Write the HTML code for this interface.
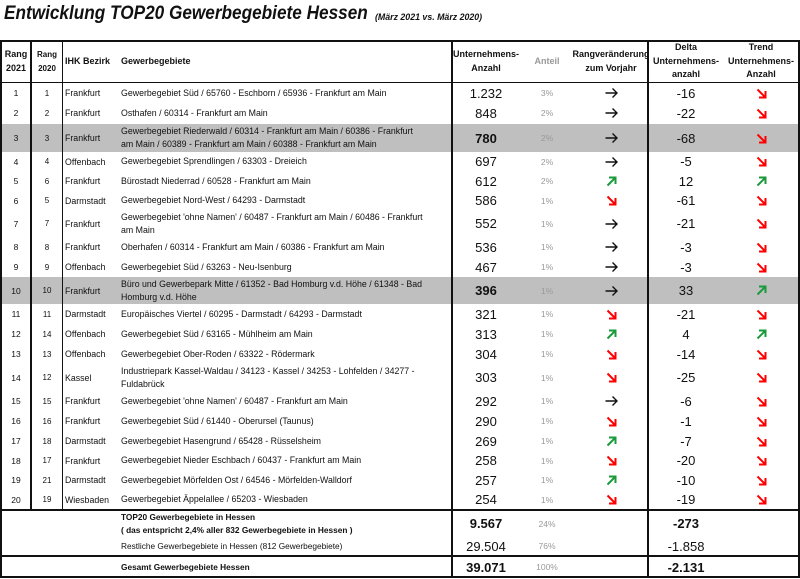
<!DOCTYPE html>
<html><head><meta charset="utf-8"><style>
*{margin:0;padding:0;box-sizing:border-box}
body{width:800px;height:579px;background:#fff;position:relative;overflow:hidden;font-family:"Liberation Sans",sans-serif;color:#111}
.title{position:absolute;left:4px;top:3px;font-size:19px;font-weight:bold;font-style:italic;transform:scaleX(0.905);transform-origin:0 0;white-space:nowrap}
.sub{position:absolute;left:375px;top:12px;font-size:8.8px;font-weight:bold;font-style:italic}
.row{position:absolute;left:1px;width:798px;display:flex}
.row>div{display:flex;align-items:center;height:100%;white-space:nowrap;overflow:visible}
.c1{width:30px;justify-content:center;font-size:8.5px}
.c2{width:32px;justify-content:center;font-size:8px}
.c3{width:55px;padding-left:2px;font-size:8.8px}
.c4{width:334px;padding-left:3px;font-size:8.8px;line-height:13px}
.c5{width:68px;justify-content:center;font-size:13px}
.c6{width:54px;justify-content:center;font-size:8.5px;color:#999}
.c7{width:74px;justify-content:center;font-size:15px}
.c8{width:76px;justify-content:center;font-size:13px}
.c9{width:74px;justify-content:center}
.hd>div{font-weight:bold;font-size:9px;text-align:center;line-height:13.5px}
.g{background:#bfbfbf}
.b{font-weight:bold}
.ln{position:absolute;background:#111}
</style></head><body>
<div class="title">Entwicklung TOP20 Gewerbegebiete Hessen</div>
<div class="sub">(März 2021 vs. März 2020)</div>

<div class="row hd" style="top:41px;height:41px">
<div class="c1">Rang<br>2021</div><div class="c2" style="font-size:8px">Rang<br>2020</div>
<div class="c3" style="justify-content:flex-start">IHK Bezirk</div>
<div class="c4" style="font-size:9px">Gewerbegebiete</div>
<div class="c5" style="font-size:9px">Unternehmens-<br>Anzahl</div>
<div class="c6" style="font-size:9px">Anteil</div>
<div class="c7" style="font-size:9px">Rangveränderung<br>zum Vorjahr</div>
<div class="c8" style="font-size:9px">Delta<br>Unternehmens-<br>anzahl</div>
<div class="c9" style="font-size:9px">Trend<br>Unternehmens-<br>Anzahl</div>
</div>

<svg width="0" height="0" style="position:absolute"><defs>
<g id="dn"><path d="M1.5 1.5L9 9M3 9.5H9.5V3" stroke="#f00" stroke-width="2" fill="none"/></g>
<g id="up"><path d="M1.5 9.5L9 2M3 1.5H9.5V8" stroke="#1a9a3a" stroke-width="2" fill="none"/></g>
<g id="rt"><path d="M0.5 6H12M7.5 1.5L12 6L7.5 10.5" stroke="#111" stroke-width="1.4" fill="none"/></g>
</defs></svg>

<div class="row" style="top:83px;height:20px"><div class="c1">1</div><div class="c2">1</div><div class="c3">Frankfurt</div><div class="c4">Gewerbegebiet Süd / 65760 - Eschborn / 65936 - Frankfurt am Main</div><div class="c5">1.232</div><div class="c6">3%</div><div class="c7"><svg width="13" height="12"><use href="#rt"/></svg></div><div class="c8">-16</div><div class="c9"><svg width="11" height="11"><use href="#dn"/></svg></div></div>
<div class="row" style="top:103px;height:20px"><div class="c1">2</div><div class="c2">2</div><div class="c3">Frankfurt</div><div class="c4">Osthafen / 60314 - Frankfurt am Main</div><div class="c5">848</div><div class="c6">2%</div><div class="c7"><svg width="13" height="12"><use href="#rt"/></svg></div><div class="c8">-22</div><div class="c9"><svg width="11" height="11"><use href="#dn"/></svg></div></div>
<div class="row g" style="top:124px;height:28px"><div class="c1">3</div><div class="c2">3</div><div class="c3">Frankfurt</div><div class="c4">Gewerbegebiet Riederwald / 60314 - Frankfurt am Main / 60386 - Frankfurt<br>am Main / 60389 - Frankfurt am Main / 60388 - Frankfurt am Main</div><div class="c5 b">780</div><div class="c6">2%</div><div class="c7"><svg width="13" height="12"><use href="#rt"/></svg></div><div class="c8">-68</div><div class="c9"><svg width="11" height="11"><use href="#dn"/></svg></div></div>
<div class="row" style="top:152px;height:19px"><div class="c1">4</div><div class="c2">4</div><div class="c3">Offenbach</div><div class="c4">Gewerbegebiet Sprendlingen / 63303 - Dreieich</div><div class="c5">697</div><div class="c6">2%</div><div class="c7"><svg width="13" height="12"><use href="#rt"/></svg></div><div class="c8">-5</div><div class="c9"><svg width="11" height="11"><use href="#dn"/></svg></div></div>
<div class="row" style="top:171px;height:20px"><div class="c1">5</div><div class="c2">6</div><div class="c3">Frankfurt</div><div class="c4">Bürostadt Niederrad / 60528 - Frankfurt am Main</div><div class="c5">612</div><div class="c6">2%</div><div class="c7"><svg width="11" height="11"><use href="#up"/></svg></div><div class="c8">12</div><div class="c9"><svg width="11" height="11"><use href="#up"/></svg></div></div>
<div class="row" style="top:191px;height:19px"><div class="c1">6</div><div class="c2">5</div><div class="c3">Darmstadt</div><div class="c4">Gewerbegebiet Nord-West / 64293 - Darmstadt</div><div class="c5">586</div><div class="c6">1%</div><div class="c7"><svg width="11" height="11"><use href="#dn"/></svg></div><div class="c8">-61</div><div class="c9"><svg width="11" height="11"><use href="#dn"/></svg></div></div>
<div class="row" style="top:210px;height:27px"><div class="c1">7</div><div class="c2">7</div><div class="c3">Frankfurt</div><div class="c4">Gewerbegebiet 'ohne Namen' / 60487 - Frankfurt am Main / 60486 - Frankfurt<br>am Main</div><div class="c5">552</div><div class="c6">1%</div><div class="c7"><svg width="13" height="12"><use href="#rt"/></svg></div><div class="c8">-21</div><div class="c9"><svg width="11" height="11"><use href="#dn"/></svg></div></div>
<div class="row" style="top:237px;height:20px"><div class="c1">8</div><div class="c2">8</div><div class="c3">Frankfurt</div><div class="c4">Oberhafen / 60314 - Frankfurt am Main / 60386 - Frankfurt am Main</div><div class="c5">536</div><div class="c6">1%</div><div class="c7"><svg width="13" height="12"><use href="#rt"/></svg></div><div class="c8">-3</div><div class="c9"><svg width="11" height="11"><use href="#dn"/></svg></div></div>
<div class="row" style="top:257px;height:20px"><div class="c1">9</div><div class="c2">9</div><div class="c3">Offenbach</div><div class="c4">Gewerbegebiet Süd / 63263 - Neu-Isenburg</div><div class="c5">467</div><div class="c6">1%</div><div class="c7"><svg width="13" height="12"><use href="#rt"/></svg></div><div class="c8">-3</div><div class="c9"><svg width="11" height="11"><use href="#dn"/></svg></div></div>
<div class="row g" style="top:277px;height:27px"><div class="c1">10</div><div class="c2">10</div><div class="c3">Frankfurt</div><div class="c4">Büro und Gewerbepark Mitte / 61352 - Bad Homburg v.d. Höhe / 61348 - Bad<br>Homburg v.d. Höhe</div><div class="c5 b">396</div><div class="c6">1%</div><div class="c7"><svg width="13" height="12"><use href="#rt"/></svg></div><div class="c8">33</div><div class="c9"><svg width="11" height="11"><use href="#up"/></svg></div></div>
<div class="row" style="top:304px;height:20px"><div class="c1">11</div><div class="c2">11</div><div class="c3">Darmstadt</div><div class="c4">Europäisches Viertel / 60295 - Darmstadt / 64293 - Darmstadt</div><div class="c5">321</div><div class="c6">1%</div><div class="c7"><svg width="11" height="11"><use href="#dn"/></svg></div><div class="c8">-21</div><div class="c9"><svg width="11" height="11"><use href="#dn"/></svg></div></div>
<div class="row" style="top:324px;height:20px"><div class="c1">12</div><div class="c2">14</div><div class="c3">Offenbach</div><div class="c4">Gewerbegebiet Süd / 63165 - Mühlheim am Main</div><div class="c5">313</div><div class="c6">1%</div><div class="c7"><svg width="11" height="11"><use href="#up"/></svg></div><div class="c8">4</div><div class="c9"><svg width="11" height="11"><use href="#up"/></svg></div></div>
<div class="row" style="top:344px;height:20px"><div class="c1">13</div><div class="c2">13</div><div class="c3">Offenbach</div><div class="c4">Gewerbegebiet Ober-Roden / 63322 - Rödermark</div><div class="c5">304</div><div class="c6">1%</div><div class="c7"><svg width="11" height="11"><use href="#dn"/></svg></div><div class="c8">-14</div><div class="c9"><svg width="11" height="11"><use href="#dn"/></svg></div></div>
<div class="row" style="top:364px;height:27px"><div class="c1">14</div><div class="c2">12</div><div class="c3">Kassel</div><div class="c4">Industriepark Kassel-Waldau / 34123 - Kassel / 34253 - Lohfelden / 34277 -<br>Fuldabrück</div><div class="c5">303</div><div class="c6">1%</div><div class="c7"><svg width="11" height="11"><use href="#dn"/></svg></div><div class="c8">-25</div><div class="c9"><svg width="11" height="11"><use href="#dn"/></svg></div></div>
<div class="row" style="top:391px;height:20px"><div class="c1">15</div><div class="c2">15</div><div class="c3">Frankfurt</div><div class="c4">Gewerbegebiet 'ohne Namen' / 60487 - Frankfurt am Main</div><div class="c5">292</div><div class="c6">1%</div><div class="c7"><svg width="13" height="12"><use href="#rt"/></svg></div><div class="c8">-6</div><div class="c9"><svg width="11" height="11"><use href="#dn"/></svg></div></div>
<div class="row" style="top:411px;height:20px"><div class="c1">16</div><div class="c2">16</div><div class="c3">Frankfurt</div><div class="c4">Gewerbegebiet Süd / 61440 - Oberursel (Taunus)</div><div class="c5">290</div><div class="c6">1%</div><div class="c7"><svg width="11" height="11"><use href="#dn"/></svg></div><div class="c8">-1</div><div class="c9"><svg width="11" height="11"><use href="#dn"/></svg></div></div>
<div class="row" style="top:431px;height:20px"><div class="c1">17</div><div class="c2">18</div><div class="c3">Darmstadt</div><div class="c4">Gewerbegebiet Hasengrund / 65428 - Rüsselsheim</div><div class="c5">269</div><div class="c6">1%</div><div class="c7"><svg width="11" height="11"><use href="#up"/></svg></div><div class="c8">-7</div><div class="c9"><svg width="11" height="11"><use href="#dn"/></svg></div></div>
<div class="row" style="top:451px;height:19px"><div class="c1">18</div><div class="c2">17</div><div class="c3">Frankfurt</div><div class="c4">Gewerbegebiet Nieder Eschbach / 60437 - Frankfurt am Main</div><div class="c5">258</div><div class="c6">1%</div><div class="c7"><svg width="11" height="11"><use href="#dn"/></svg></div><div class="c8">-20</div><div class="c9"><svg width="11" height="11"><use href="#dn"/></svg></div></div>
<div class="row" style="top:470px;height:20px"><div class="c1">19</div><div class="c2">21</div><div class="c3">Darmstadt</div><div class="c4">Gewerbegebiet Mörfelden Ost / 64546 - Mörfelden-Walldorf</div><div class="c5">257</div><div class="c6">1%</div><div class="c7"><svg width="11" height="11"><use href="#up"/></svg></div><div class="c8">-10</div><div class="c9"><svg width="11" height="11"><use href="#dn"/></svg></div></div>
<div class="row" style="top:490px;height:19px"><div class="c1">20</div><div class="c2">19</div><div class="c3">Wiesbaden</div><div class="c4">Gewerbegebiet Äppelallee / 65203 - Wiesbaden</div><div class="c5">254</div><div class="c6">1%</div><div class="c7"><svg width="11" height="11"><use href="#dn"/></svg></div><div class="c8">-19</div><div class="c9"><svg width="11" height="11"><use href="#dn"/></svg></div></div>

<div class="row" style="top:511px;height:25px"><div class="c1"></div><div class="c2"></div><div class="c3"></div><div class="c4 b" style="font-size:8.3px">TOP20 Gewerbegebiete in Hessen<br>( das entspricht 2,4% aller 832 Gewerbegebiete in Hessen )</div><div class="c5 b">9.567</div><div class="c6">24%</div><div class="c7"></div><div class="c8 b">-273</div><div class="c9"></div></div>
<div class="row" style="top:537px;height:18px"><div class="c1"></div><div class="c2"></div><div class="c3"></div><div class="c4" style="font-size:8.3px">Restliche Gewerbegebiete in Hessen (812 Gewerbegebiete)</div><div class="c5">29.504</div><div class="c6">76%</div><div class="c7"></div><div class="c8">-1.858</div><div class="c9"></div></div>
<div class="row" style="top:557px;height:20px"><div class="c1"></div><div class="c2"></div><div class="c3"></div><div class="c4 b" style="font-size:8.3px">Gesamt Gewerbegebiete Hessen</div><div class="c5 b">39.071</div><div class="c6">100%</div><div class="c7"></div><div class="c8 b">-2.131</div><div class="c9"></div></div>

<div class="ln" style="left:0;top:40px;width:800px;height:2px"></div>
<div class="ln" style="left:0;top:576px;width:800px;height:2px"></div>
<div class="ln" style="left:0;top:40px;width:2px;height:538px"></div>
<div class="ln" style="left:798px;top:40px;width:2px;height:538px"></div>
<div class="ln" style="left:0;top:82px;width:800px;height:1px"></div>
<div class="ln" style="left:0;top:509px;width:800px;height:2px"></div>
<div class="ln" style="left:0;top:555px;width:800px;height:2px"></div>
<div class="ln" style="left:30px;top:40px;width:2px;height:470px"></div>
<div class="ln" style="left:62px;top:40px;width:1px;height:470px"></div>
<div class="ln" style="left:451px;top:40px;width:2px;height:538px"></div>
<div class="ln" style="left:647px;top:40px;width:2px;height:538px"></div>
</body></html>
